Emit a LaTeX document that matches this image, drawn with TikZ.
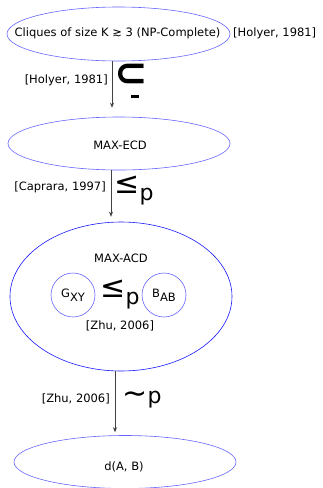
\documentclass[tikz,border=0pt]{standalone}
\usepackage{fontspec}
\setmainfont{DejaVu Sans}
\usetikzlibrary{shapes.geometric,arrows.meta}
\begin{document}
\begin{tikzpicture}[x=1pt,y=-1pt,
  ell/.style={draw=blue!60, line width=0.6pt, ellipse, inner sep=0pt},
  circ/.style={draw=blue!60, line width=0.6pt, circle, inner sep=0pt, minimum size=44pt, font=\fontsize{11.5}{13}\selectfont},
  lbl/.style={inner sep=0pt, font=\fontsize{11.5}{13}\selectfont},
  big/.style={inner sep=0pt, font=\fontsize{30}{32}\selectfont},
  arr/.style={draw=black!75, line width=0.5pt, -{Stealth[length=5pt,width=4pt]}}]
\useasboundingbox (0,0) rectangle (322,488);
% nodes
\node[ell, minimum width=223pt, minimum height=54pt] (clq) at (118.5,34) {};
\node[lbl] (clqt) at (117.5,33) {Cliques of size K ≳ 3 (NP-Complete)};
\node[lbl, anchor=west] (clqref) at (233,33) {[Holyer, 1981]};
\node[ell, minimum width=222pt, minimum height=53pt] (ecd) at (119,143.5) {};
\node[lbl] (ecdt) at (120,145) {MAX-ECD};
\node[ell, draw=blue!90, line width=0.6pt, minimum width=222pt, minimum height=149pt] (acd) at (121,296.5) {};
\node[lbl] (acdt) at (121,258) {MAX-ACD};
\node[circ] (gxy) at (73,295) {G\raisebox{-4pt}{XY}};
\node[circ] (bab) at (164,295) {B\raisebox{-4pt}{AB}};
\node[big] (le2) at (120,295) {≤\raisebox{-7pt}{\fontsize{22}{24}\selectfont p}};
\node[lbl] (zhu1) at (120,326) {[Zhu, 2006]};
\node[ell, minimum width=222pt, minimum height=53pt] (dab) at (125,462) {};
\node[lbl] (dabt) at (124,467) {d(A, B)};
% arrows
\draw[arr, shorten >=9pt] (clq.south -| 112,0) -- (ecd.north -| 112,0);
\draw[arr, shorten >=5pt] (ecd.south -| 111,0) -- (acd.north -| 111,0);
\draw[arr, shorten >=3pt] (acd.south -| 115,0) -- (dab.north -| 115,0);
% edge labels
\node[lbl, anchor=east] (l1) at (108,80) {[Holyer, 1981]};
\node[inner sep=0pt, font=\fontsize{40}{42}\bfseries\selectfont] (s1) at (131,75) {⊂};
\fill ([shift={(0,20)}]s1.center) rectangle ([shift={(8,23)}]s1.center);
\node[lbl, anchor=east] (l2) at (106,187) {[Caprara, 1997]};
\node[big] (s2) at (134,191) {≤\raisebox{-7pt}{\fontsize{22}{24}\selectfont p}};
\node[lbl, anchor=east] (l3) at (110,399) {[Zhu, 2006]};
\node[big] (s3) at (142,400) {∼\fontsize{22}{24}\selectfont p};
\end{tikzpicture}
\end{document}
